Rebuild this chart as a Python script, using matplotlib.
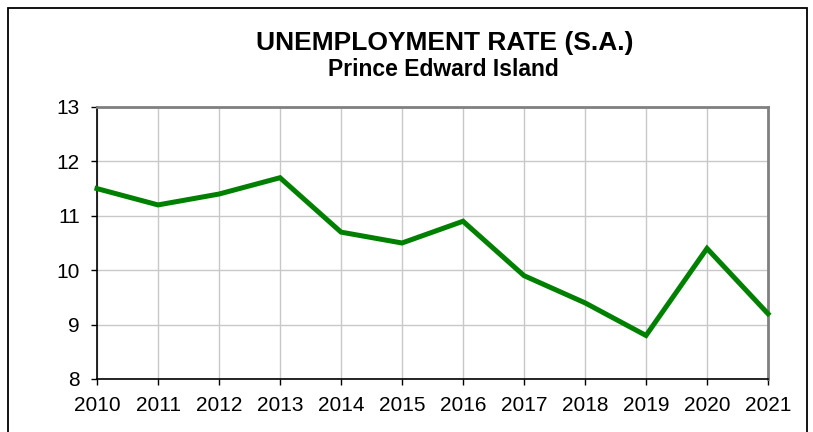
import matplotlib
matplotlib.use("Agg")
import matplotlib.pyplot as plt
from matplotlib.patches import Rectangle

years = [2010, 2011, 2012, 2013, 2014, 2015, 2016, 2017, 2018, 2019, 2020, 2021]
rate = [11.5, 11.2, 11.4, 11.7, 10.7, 10.5, 10.9, 9.9, 9.4, 8.8, 10.4, 9.2]
yticks = [8, 9, 10, 11, 12, 13]

plt.rcParams['font.family'] = ['Liberation Sans', 'DejaVu Sans']

W, H = 813, 432
fig = plt.figure(figsize=(W / 100, H / 100), dpi=100)
ax = fig.add_axes([97 / W, 1 - 379 / H, (768 - 97) / W, (379 - 107) / H])

ax.plot(years, rate, color='#008000', lw=3.6, solid_joinstyle='miter', zorder=3, clip_on=False)
ax.set_xlim(years[0], years[-1])
ax.set_ylim(8, 13)
ax.set_xticks(years)
ax.set_yticks(yticks)
ax.set_xticklabels([str(y) for y in years])
ax.grid(True, color='#c8c8c8', lw=1.0)
ax.tick_params(axis='both', labelsize=15, direction='out', length=4.3, width=1, color='#000000', pad=8)
for s in ['left', 'bottom']:
    ax.spines[s].set_color('#000000')
    ax.spines[s].set_linewidth(1.2)
for s in ['top', 'right']:
    ax.spines[s].set_color('#808080')
    ax.spines[s].set_linewidth(2)

fig.text(445 / W, 1 - 50 / H, 'UNEMPLOYMENT RATE (S.A.)', ha='center', va='baseline',
         fontsize=19, fontweight='bold')
fig.text(443 / W, 1 - 76 / H, 'Prince Edward Island', ha='center', va='baseline',
         fontsize=16.5, fontweight='bold')

fig.patches.append(Rectangle((8 / W, -0.05), (807 - 8) / W, 1 - 8 / H + 0.05,
                             transform=fig.transFigure, fill=False, edgecolor='#000000', lw=1.3))

fig.savefig('out.png', dpi=100)
